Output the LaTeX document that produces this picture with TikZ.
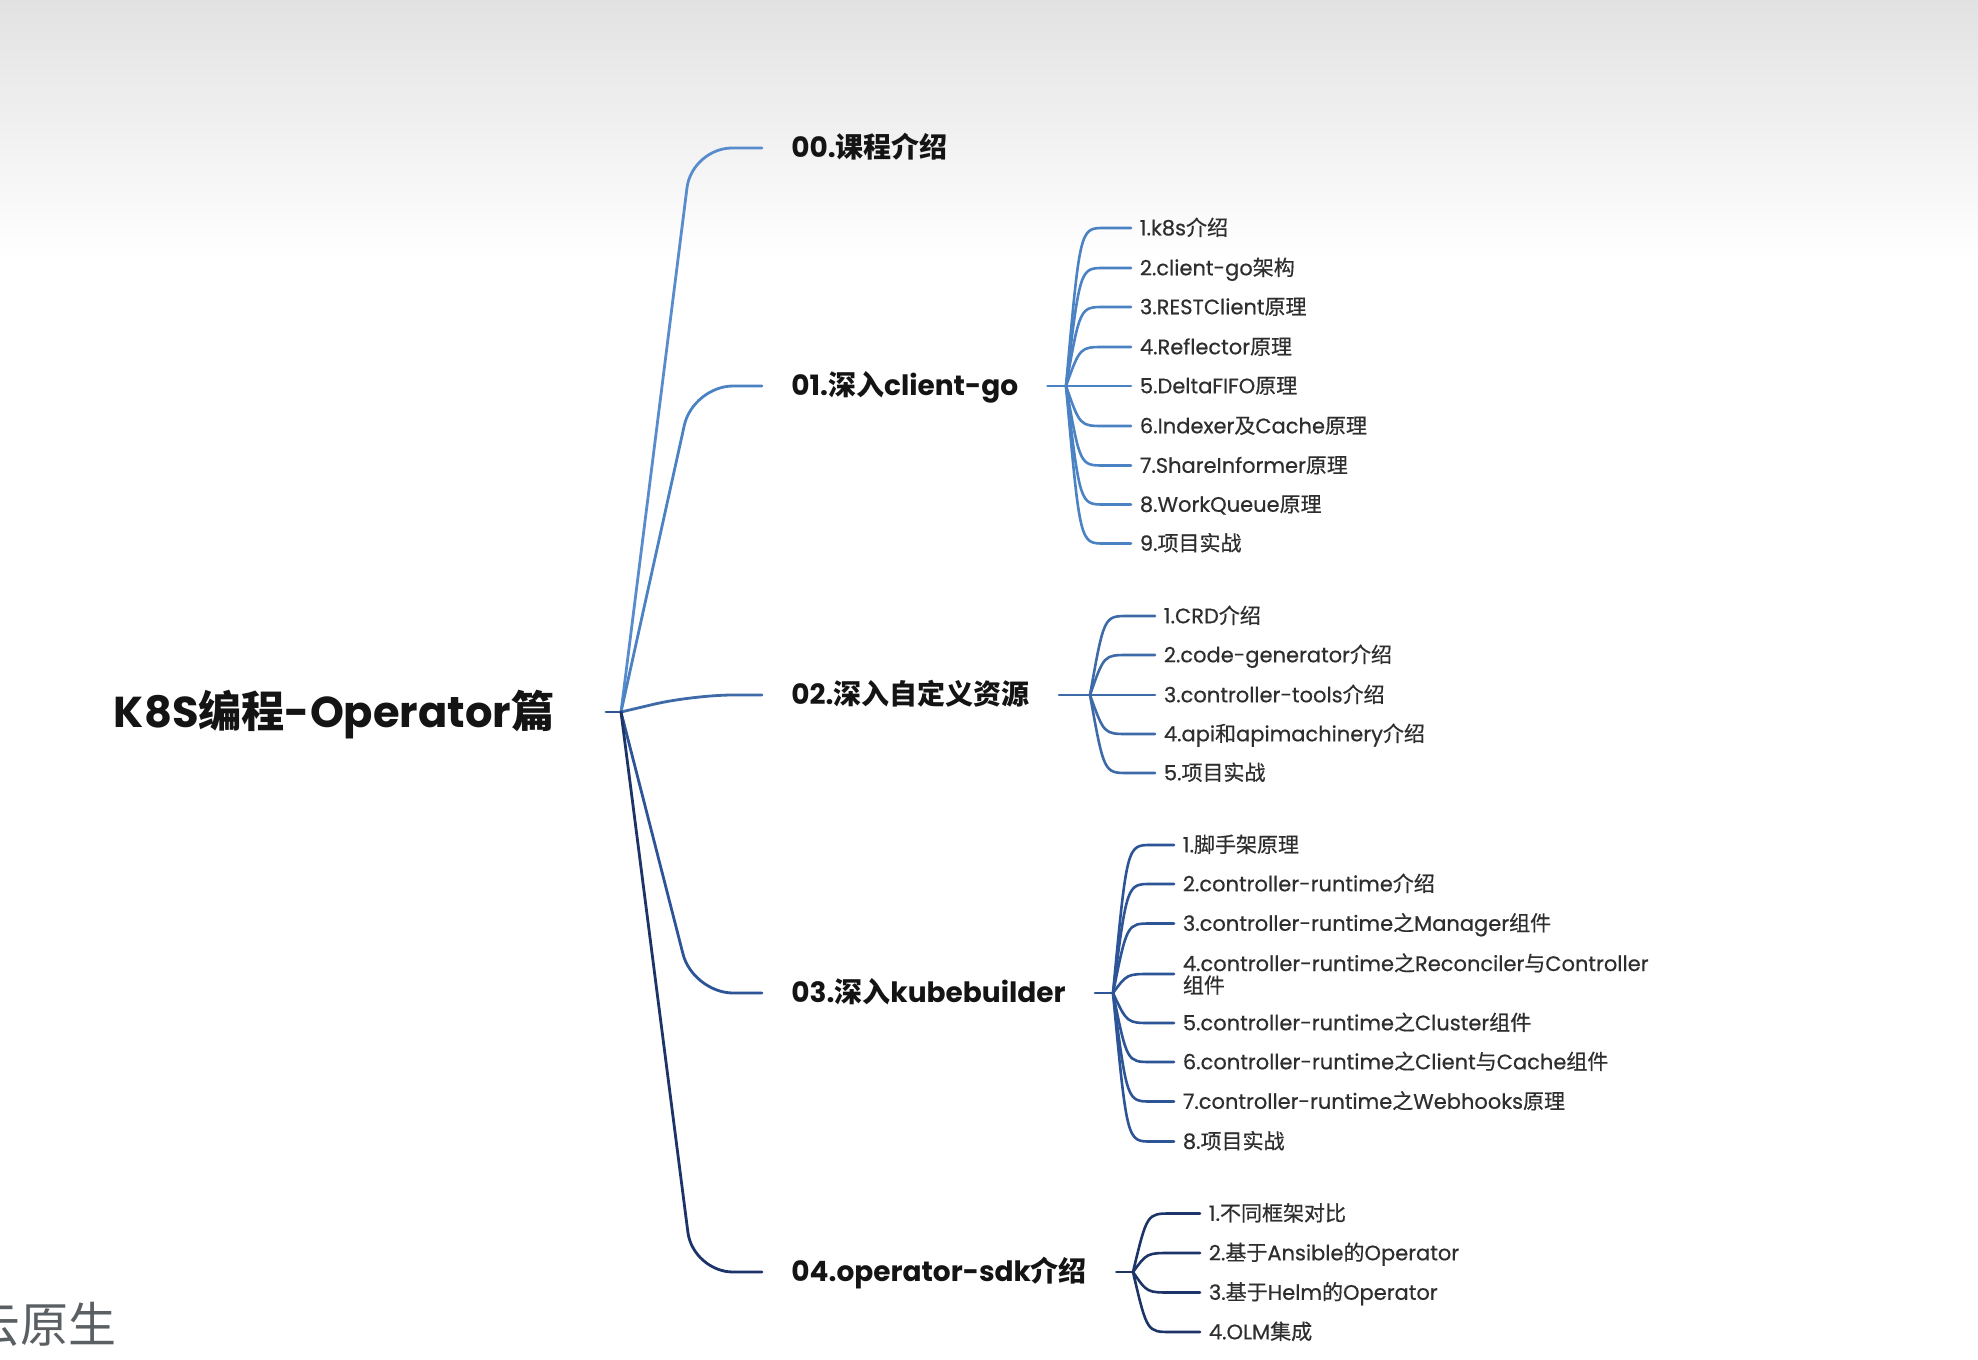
\documentclass[tikz,border=0pt]{standalone}
\usepackage{fontspec}
\setmainfont{Poppins}
\newfontfamily\zhf{Noto Sans CJK SC}
\newfontfamily\subf{Poppins}[FakeBold=0.5]
\newfontfamily\zhsubf{Noto Sans CJK SC}[FakeBold=0.5]
\let\curzh\zhf
\newcommand\zhs[1]{{\curzh #1}}
\usetikzlibrary{calc}
\definecolor{col0}{RGB}{88,140,205}
\definecolor{col1}{RGB}{74,130,196}
\definecolor{col2}{RGB}{62,106,168}
\definecolor{col3}{RGB}{44,84,150}
\definecolor{col4}{RGB}{28,52,104}
\definecolor{topgray}{RGB}{226,226,226}
\definecolor{tonetext}{RGB}{20,20,20}
\definecolor{subtext}{RGB}{46,46,46}
\definecolor{wmtext}{RGB}{90,95,99}
\tikzset{
  rootnode/.style={anchor=west, inner xsep=25.5pt, inner ysep=0pt, text=tonetext,
    font=\bfseries\fontsize{21.6pt}{26pt}\selectfont, text height=18.4pt, text depth=3.2pt},
  topic/.style={anchor=west, inner xsep=14.5pt, inner ysep=0pt, text=tonetext,
    font=\bfseries\fontsize{14pt}{17pt}\selectfont, text height=11.9pt, text depth=2.1pt},
  subbase/.style={anchor=west, inner xsep=4.25pt, inner ysep=0pt, text=subtext,
    font=\subf\let\curzh\zhsubf\fontsize{10.5pt}{11pt}\selectfont},
  subnode/.style={subbase, text height=8.9pt, text depth=1.6pt},
  link/.style={line width=1.3pt, line cap=round},
  toplink/.style={link, line width=1.4pt, rounded corners=20pt},
}
\begin{document}
\begin{tikzpicture}[x=0.5pt,y=-0.5pt]
\useasboundingbox (0,0) rectangle (1978,1360);
\fill[white] (0,0) rectangle (1978,1360);
\shade[top color=topgray, bottom color=white] (0,0) rectangle (1978,260);

% root
\node[rootnode] (root) at (62.5,712) {K8S\zhs{编程}-Operator\zhs{篇}};
\coordinate (R) at (621,712);
\draw[link, col3] (root.east) -- (R);

% level one
\node[topic] (n0) at (762,148) {00.\zhs{课程介绍}};
\node[topic] (n1) at (762,386) {01.\zhs{深入}client-go};
\node[topic] (n2) at (762,695) {02.\zhs{深入自定义资源}};
\node[topic] (n3) at (762,993) {03.\zhs{深入}kubebuilder};
\node[topic] (n4) at (762,1272) {04.operator-sdk\zhs{介绍}};

\draw[toplink, col0] (R) -- ($(n0.west)+(-70,0)$) -- (n0.west);
\draw[toplink, col1] (R) -- ($(n1.west)+(-69,0)$) -- (n1.west);
\draw[toplink, col2] (R) -- ($(n2.west)+(-69,0)$) -- (n2.west);
\draw[toplink, col3] (R) -- ($(n3.west)+(-69,0)$) -- (n3.west);
\draw[toplink, col4] (R) -- ($(n4.west)+(-69,0)$) -- (n4.west);

% hubs
\coordinate (h1) at (1066,386);
\coordinate (h2) at (1090,695);
\coordinate (h3) at (1113,993);
\coordinate (h4) at (1133,1272);
\draw[link, col1] (n1.east) -- (h1);
\draw[link, col2] (n2.east) -- (h2);
\draw[link, col3] (n3.east) -- (h3);
\draw[link, col4] (n4.east) -- (h4);

% 01 children
\node[subnode] (a1) at (1131,228) {1.k8s\zhs{介绍}};
\node[subnode] (a2) at (1131,268) {2.client-go\zhs{架构}};
\node[subnode] (a3) at (1131,307) {3.RESTClient\zhs{原理}};
\node[subnode] (a4) at (1131,347) {4.Reflector\zhs{原理}};
\node[subnode] (a5) at (1131,386) {5.DeltaFIFO\zhs{原理}};
\node[subnode] (a6) at (1131,426) {6.Indexer\zhs{及}Cache\zhs{原理}};
\node[subnode] (a7) at (1131,465.5) {7.ShareInformer\zhs{原理}};
\node[subnode] (a8) at (1131,504.5) {8.WorkQueue\zhs{原理}};
\node[subnode] (a9) at (1131,543.5) {9.\zhs{项目实战}};
\foreach \i in {1,...,9}
  \draw[link, col1] (h1) .. controls ($(h1|-a\i.west)+(14,0)$) .. ($(h1|-a\i.west)+(38,0)$) -- (a\i.west);

% 02 children
\node[subnode] (b1) at (1155,616) {1.CRD\zhs{介绍}};
\node[subnode] (b2) at (1155,655) {2.code-generator\zhs{介绍}};
\node[subnode] (b3) at (1155,695) {3.controller-tools\zhs{介绍}};
\node[subnode] (b4) at (1155,734) {4.api\zhs{和}apimachinery\zhs{介绍}};
\node[subnode] (b5) at (1155,773) {5.\zhs{项目实战}};
\foreach \i in {1,...,5}
  \draw[link, col2] (h2) .. controls ($(h2|-b\i.west)+(14,0)$) .. ($(h2|-b\i.west)+(38,0)$) -- (b\i.west);

% 03 children
\node[subnode] (c1) at (1174,845) {1.\zhs{脚手架原理}};
\node[subnode] (c2) at (1174,884) {2.controller-runtime\zhs{介绍}};
\node[subnode] (c3) at (1174,923.5) {3.controller-runtime\zhs{之}Manager\zhs{组件}};
\node[subbase, align=left] (c4) at (1174,974) {4.controller-runtime\zhs{之}Reconciler\zhs{与}Controller\\\zhs{组件}};
\node[subnode] (c5) at (1174,1023) {5.controller-runtime\zhs{之}Cluster\zhs{组件}};
\node[subnode] (c6) at (1174,1062) {6.controller-runtime\zhs{之}Client\zhs{与}Cache\zhs{组件}};
\node[subnode] (c7) at (1174,1101.5) {7.controller-runtime\zhs{之}Webhooks\zhs{原理}};
\node[subnode] (c8) at (1174,1141.5) {8.\zhs{项目实战}};
\foreach \i in {1,...,8}
  \draw[link, col3] (h3) .. controls ($(h3|-c\i.west)+(14,0)$) .. ($(h3|-c\i.west)+(38,0)$) -- (c\i.west);

% 04 children
\node[subnode] (d1) at (1200,1213.5) {1.\zhs{不同框架对比}};
\node[subnode] (d2) at (1200,1253) {2.\zhs{基于}Ansible\zhs{的}Operator};
\node[subnode] (d3) at (1200,1292.5) {3.\zhs{基于}Helm\zhs{的}Operator};
\node[subnode] (d4) at (1200,1332) {4.OLM\zhs{集成}};
\foreach \i in {1,...,4}
  \draw[link, col4] (h4) .. controls ($(h4|-d\i.west)+(14,0)$) .. ($(h4|-d\i.west)+(38,0)$) -- (d\i.west);

% watermark
\node[anchor=west, inner sep=0pt, text=wmtext, font=\zhf\fontsize{24pt}{24pt}\selectfont] (wm) at (-28,1324) {云原生};
\end{tikzpicture}
\end{document}
